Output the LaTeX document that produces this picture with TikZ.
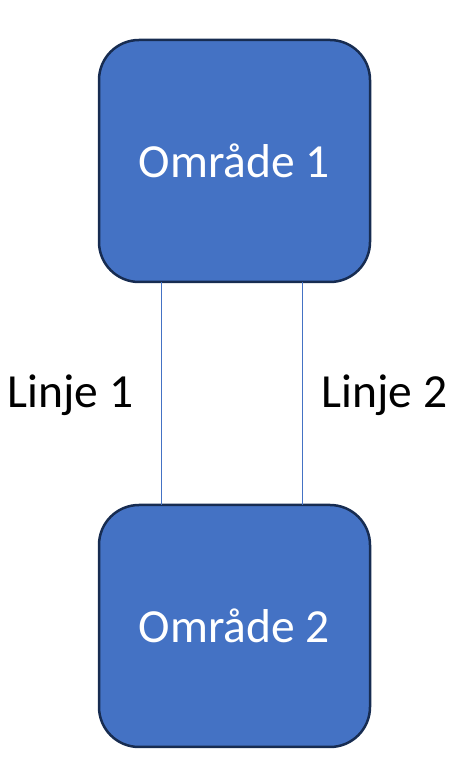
\documentclass[tikz,border=0pt]{standalone}
\usepackage{fontspec}
\setmainfont{Carlito}
\usetikzlibrary{positioning}
\definecolor{boxfill}{HTML}{4472C4}
\definecolor{boxline}{HTML}{172C51}

\begin{document}
\begin{tikzpicture}[x=1pt,y=1pt,
    omr/.style={draw=boxline,line width=2.5pt,fill=boxfill,rounded corners=40pt,
      minimum width=271pt,minimum height=242pt,inner sep=0pt,outer sep=0pt,
      text=white,font=\fontsize{47.5}{57}\selectfont},
    lbl/.style={anchor=base,font=\fontsize{47.5}{57}\selectfont}]
  \useasboundingbox (0,0) rectangle (466,782);
  \node[omr] (o1) at (234.5,621) {Område 1};
  \node[omr] (o2) at (234.5,156) {Område 2};

  \draw[boxfill,line width=1pt] ([xshift=-73.5pt]o1.south)--([xshift=-73.5pt]o2.north);
  \draw[boxfill,line width=1pt] ([xshift=67.5pt]o1.south)--([xshift=67.5pt]o2.north);

  \node[lbl] (l1) at (70.5,374) {Linje 1};
  \node[lbl] (l2) at (384.5,374) {Linje 2};
\end{tikzpicture}
\end{document}
